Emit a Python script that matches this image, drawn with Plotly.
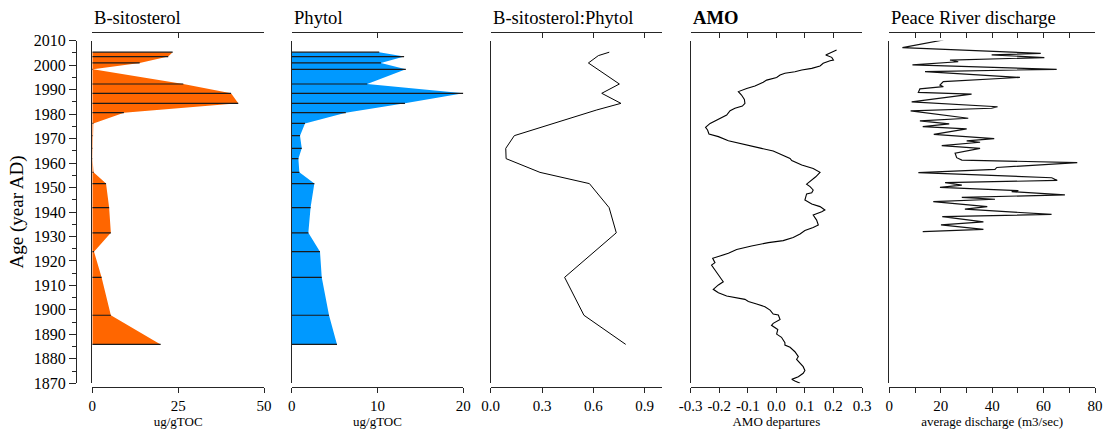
import plotly.graph_objects as go

W, H = 1104, 434

# ---------------- data ----------------
sample_age = [2005.3, 2003.5, 2000.9, 1998.3, 1992.3, 1988.5, 1984.4, 1980.6, 1976.2, 1971.2,
              1966.0, 1961.8, 1956.2, 1951.6, 1941.8, 1931.5, 1923.8, 1913.3, 1897.8, 1885.9]
b_sitosterol = [23.4, 22.1, 13.8, 0.2, 26.5, 40.4, 42.5, 9.2, 0.3, 0.15,
                0.12, 0.08, 0.36, 4.0, 4.9, 5.4, 0.5, 2.7, 5.4, 19.9]
phytol = [10.2, 13.1, 10.4, 13.3, 8.8, 20.0, 13.2, 6.3, 1.55, 0.97,
          1.17, 0.78, 0.89, 2.64, 2.2, 1.94, 3.3, 3.5, 4.35, 5.28]

ratio_age = [2005.3, 2003.9, 2000.9, 1992.3, 1988.5, 1984.4, 1981.7, 1971.2, 1966.0, 1961.8,
             1956.2, 1951.6, 1941.8, 1931.5, 1913.3, 1897.8, 1885.9]
ratio = [0.693, 0.629, 0.571, 0.752, 0.649, 0.761, 0.62, 0.138, 0.088, 0.09,
         0.288, 0.577, 0.692, 0.734, 0.432, 0.545, 0.789]

amo_age = [2006.2, 2004.2, 2003.2, 2002.1, 2001.8, 2000.8, 1999.7, 1998.7, 1998.0, 1997.3,
           1996.7, 1996.0, 1995.0, 1993.9, 1993.0, 1991.5, 1990.5, 1989.2, 1987.8, 1986.0,
           1984.4, 1983.3, 1982.4, 1981.4, 1979.6, 1977.9, 1976.2, 1974.6, 1973.5, 1971.9,
           1970.8, 1969.1, 1967.4, 1966.0, 1964.9, 1963.3, 1961.9, 1961.0, 1959.2, 1957.8,
           1956.2, 1954.4, 1953.1, 1951.4, 1950.4, 1949.0, 1947.9, 1947.4, 1944.9, 1943.3,
           1942.2, 1940.8, 1940.1, 1938.8, 1936.7, 1934.7, 1933.7, 1932.4, 1931.0, 1929.6,
           1928.3, 1927.5, 1926.1, 1924.7, 1923.1, 1922.0, 1921.1, 1919.3, 1918.3, 1916.3,
           1914.2, 1911.5, 1910.2, 1908.4, 1907.0, 1905.7, 1904.3, 1903.4, 1902.4, 1901.3,
           1899.9, 1898.3, 1897.9, 1896.1, 1894.5, 1893.7, 1892.0, 1890.1, 1888.8, 1886.6,
           1885.6, 1884.7, 1882.9, 1880.9, 1879.8, 1878.2, 1876.8, 1875.2, 1874.1, 1872.7,
           1871.6, 1870.9, 1870.0]
amo = [0.211, 0.173, 0.194, 0.200, 0.188, 0.164, 0.153, 0.124, 0.089, 0.065,
       0.030, 0.013, 0.001, -0.034, -0.046, -0.075, -0.104, -0.133, -0.122, -0.112,
       -0.110, -0.119, -0.145, -0.162, -0.174, -0.203, -0.232, -0.248, -0.241, -0.236,
       -0.203, -0.168, -0.110, -0.052, -0.011, 0.018, 0.048, 0.054, 0.089, 0.129,
       0.153, 0.138, 0.124, 0.106, 0.118, 0.129, 0.124, 0.106, 0.100, 0.124,
       0.153, 0.170, 0.159, 0.129, 0.141, 0.147, 0.129, 0.100, 0.083, 0.059,
       0.024, -0.028, -0.087, -0.139, -0.168, -0.197, -0.223, -0.215, -0.227, -0.215,
       -0.203, -0.186, -0.203, -0.221, -0.203, -0.174, -0.110, -0.098, -0.069, -0.040,
       -0.022, -0.011, 0.007, 0.013, -0.011, -0.017, 0.005, 0.001, 0.018, 0.030,
       0.030, 0.048, 0.065, 0.077, 0.071, 0.083, 0.094, 0.100, 0.094, 0.077,
       0.054, 0.065, 0.083]

peace_age = [2010.3, 2007.2, 2004.8, 2004.2, 2003.1, 2002.1, 2001.4, 2000.1, 1998.3, 1997.4,
             1995.0, 1993.3, 1991.9, 1991.2, 1990.3, 1988.9, 1988.2, 1985.0, 1983.0, 1982.4,
             1981.3, 1978.3, 1977.2, 1976.0, 1974.9, 1974.0, 1971.7, 1970.0, 1969.1, 1968.5,
             1967.1, 1966.0, 1964.0, 1962.2, 1961.2, 1960.2, 1958.2, 1957.4, 1956.1, 1954.0,
             1952.9, 1952.0, 1951.0, 1950.1, 1948.7, 1948.3, 1947.0, 1946.0, 1945.2, 1944.2,
             1942.2, 1941.2, 1939.0, 1938.1, 1936.0, 1934.7, 1932.9, 1932.0]
peace = [21.0, 5.1, 58.9, 39.8, 60.3, 23.6, 26.8, 9.0, 65.1, 13.9,
         50.8, 21.0, 19.7, 21.0, 11.9, 11.3, 32.0, 8.7, 42.1, 39.8,
         8.3, 30.7, 11.9, 23.3, 13.0, 30.1, 17.3, 40.8, 30.1, 35.3,
         20.4, 35.3, 25.6, 26.2, 28.2, 73.1, 41.8, 41.1, 11.3, 63.2,
         65.3, 21.7, 28.2, 19.7, 50.2, 47.6, 68.3, 28.2, 41.1, 17.1,
         38.1, 29.4, 63.1, 20.6, 36.6, 20.1, 36.6, 13.0]

age_range = [1870, 2010]
titles = ["B-sitosterol", "Phytol", "B-sitosterol:Phytol", "<b>AMO</b>", "Peace River discharge"]
x_titles = ["ug/gTOC", "ug/gTOC", "", "AMO departures", "average discharge (m3/sec)"]
amo_ticks = [-0.3, -0.2, -0.1, 0.0, 0.1, 0.2, 0.3]
amo_ticktext = ["-0.3", "-0.2", "-0.1", "0.0", "0.1", "0.2", "0.3"]

# ---------------- layout geometry (pixels) ----------------
def px(x):
    return x / W

def py(y):
    return 1 - y / H

panel_px = [(92.3, 264.0), (291.7, 463.3), (490.7, 661.8), (690.7, 862.0), (889.3, 1095.0)]
x_ranges = [[0, 50], [0, 20], [0, 1.0], [-0.3, 0.3], [0, 80]]
y_dom = [py(383.3), py(40.7)]
bottom_pos = py(386.7)
top_pos = py(32.3)

FONT = "Liberation Serif, Times New Roman, serif"
AX = "#262626"
ORANGE = "#FF6600"
BLUE = "#0099FF"

fig = go.Figure()


def hlines(vals, ages):
    xs, ys = [], []
    for v, a in zip(vals, ages):
        xs += [0, v, None]
        ys += [a, a, None]
    return xs, ys

# Panel 1
fig.add_trace(go.Scatter(x=b_sitosterol, y=sample_age, mode="lines", fill="tozerox",
                         fillcolor=ORANGE, line=dict(width=0, color=ORANGE),
                         xaxis="x", yaxis="y", showlegend=False, hoverinfo="skip"))
hx, hy = hlines(b_sitosterol, sample_age)
fig.add_trace(go.Scatter(x=hx, y=hy, mode="lines", line=dict(color="#1a1a1a", width=1.2),
                         xaxis="x", yaxis="y", showlegend=False, hoverinfo="skip"))
# Panel 2
fig.add_trace(go.Scatter(x=phytol, y=sample_age, mode="lines", fill="tozerox",
                         fillcolor=BLUE, line=dict(width=0, color=BLUE),
                         xaxis="x2", yaxis="y2", showlegend=False, hoverinfo="skip"))
hx, hy = hlines(phytol, sample_age)
fig.add_trace(go.Scatter(x=hx, y=hy, mode="lines", line=dict(color="#1a1a1a", width=1.2),
                         xaxis="x2", yaxis="y2", showlegend=False, hoverinfo="skip"))
# Panel 3
fig.add_trace(go.Scatter(x=ratio, y=ratio_age, mode="lines", line=dict(color="black", width=1),
                         xaxis="x3", yaxis="y3", showlegend=False, hoverinfo="skip"))
# Panel 4
fig.add_trace(go.Scatter(x=amo, y=amo_age, mode="lines", line=dict(color="black", width=1.1),
                         xaxis="x4", yaxis="y4", showlegend=False, hoverinfo="skip"))
# Panel 5
fig.add_trace(go.Scatter(x=peace, y=peace_age, mode="lines", line=dict(color="#111", width=1.2),
                         xaxis="x5", yaxis="y5", showlegend=False, hoverinfo="skip"))

# empty traces for the top axes and the age axis
for i in range(5):
    fig.add_trace(go.Scatter(x=[None], y=[None], xaxis="x%d" % (i + 6), yaxis="y%d" % (i + 1),
                             showlegend=False, hoverinfo="skip"))
fig.add_trace(go.Scatter(x=[None], y=[None], xaxis="x", yaxis="y6", showlegend=False, hoverinfo="skip"))

layout = dict(template="none", width=W, height=H, margin=dict(l=0, r=0, t=0, b=0, autoexpand=False),
              paper_bgcolor="white", plot_bgcolor="white",
              font=dict(family=FONT, color="black", size=15))

tick_cfg = [
    dict(tickvals=[0, 25, 50]),
    dict(tickvals=[0, 10, 20]),
    dict(tickvals=[0, 0.3, 0.6, 0.9], ticktext=["0.0", "0.3", "0.6", "0.9"]),
    dict(tickvals=amo_ticks, ticktext=amo_ticktext),
    dict(dtick=20, tick0=0, minor=dict(dtick=10, ticks="outside", ticklen=5, tickcolor=AX, tickwidth=1.2)),
]
top_ticks = [[0, 25, 50], [0, 10, 20], [0, 0.3, 0.6, 0.9], amo_ticks, [0, 10, 20, 30, 40, 50, 60, 70, 80]]

annotations = []
for i in range(5):
    n = i + 1
    dom = [px(panel_px[i][0]), px(panel_px[i][1])]
    xa = dict(domain=dom, range=x_ranges[i], anchor="free", position=bottom_pos, automargin=False,
              showline=True, linecolor=AX, linewidth=1.3, ticks="outside", ticklen=5,
              tickwidth=1.2, tickcolor=AX, showgrid=False, zeroline=False,
              tickfont=dict(size=15), fixedrange=True)
    xa.update(tick_cfg[i])
    if x_titles[i]:
        xa["title"] = dict(text=x_titles[i], font=dict(size=13), standoff=4)
    layout["xaxis" if n == 1 else "xaxis%d" % n] = xa
    layout["xaxis%d" % (n + 5)] = dict(domain=dom, range=x_ranges[i], overlaying="x" if n == 1 else "x%d" % n,
                                       side="top", anchor="free", position=top_pos, automargin=False,
                                       showline=True, linecolor=AX, linewidth=1.3, ticks="inside",
                                       ticklen=5, tickwidth=1.2, tickcolor=AX, tickvals=top_ticks[i],
                                       showticklabels=False, showgrid=False, zeroline=False)
    ya = dict(domain=y_dom, range=age_range, anchor="x" if n == 1 else "x%d" % n, automargin=False,
              showline=True, linecolor=AX, linewidth=1.3, ticks="", showticklabels=False,
              showgrid=False, zeroline=False, fixedrange=True)
    layout["yaxis" if n == 1 else "yaxis%d" % n] = ya
    annotations.append(dict(text=titles[i], x=dom[0], y=py(17), xref="paper", yref="paper",
                            xanchor="left", yanchor="middle", showarrow=False,
                            font=dict(size=18.6, family=FONT, color="black")))

layout["yaxis6"] = dict(domain=y_dom, range=age_range, overlaying="y", anchor="free", automargin=False,
                        position=px(76), side="left", showline=True, linecolor=AX, linewidth=1.3,
                        ticks="outside", ticklen=7, tickwidth=1.2, tickcolor=AX, dtick=10, tick0=1870,
                        minor=dict(dtick=5, ticks="outside", ticklen=4, tickcolor=AX, tickwidth=1.2),
                        tickfont=dict(size=16), showgrid=False, zeroline=False,
                        title=dict(text="Age (year AD)", font=dict(size=19), standoff=4))
layout["annotations"] = annotations
fig.update_layout(**layout)

fig.write_html("out.html")
